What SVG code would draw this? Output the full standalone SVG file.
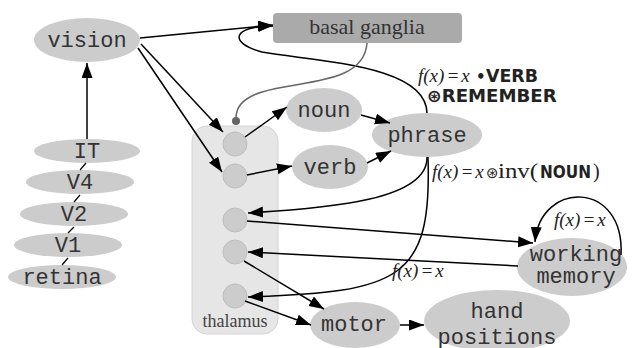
<svg xmlns="http://www.w3.org/2000/svg" width="634" height="348" viewBox="0 0 634 348">
<style>
.n{fill:#cccccc;stroke:none}
.t{font-family:"Liberation Mono","DejaVu Sans Mono",monospace;font-size:22px;fill:#333;text-anchor:middle}
.c{fill:none;stroke:#000;stroke-width:1.5}
.a{marker-end:url(#ah)}
.it{font-family:"Liberation Serif",serif;font-style:italic;font-size:19px;fill:#222}
.rm{font-family:"Liberation Serif",serif;font-size:18px;fill:#222}
.b{font-family:"DejaVu Sans",sans-serif;font-weight:bold;font-size:17.5px;fill:#222}
.th{fill:#cccccc;stroke:#bdbdbd;stroke-width:1}
</style>
<defs>
<marker id="ah" markerUnits="userSpaceOnUse" markerWidth="16" markerHeight="12" refX="15" refY="5.5" orient="auto">
<path d="M0,0 L15,5.5 L0,11 z" fill="#000"/>
</marker>
</defs>
<rect width="634" height="348" fill="#fff"/>
<g id="thalamus">
<rect x="192" y="126" width="86" height="208" rx="15" fill="#e6e6e6" stroke="#d4d4d4"/>
<text x="235" y="327" class="rm" text-anchor="middle" style="fill:#444">thalamus</text>
</g>
<g id="basal_ganglia">
<rect x="273" y="13" width="189" height="30" rx="4" fill="#aaaaaa"/>
<text x="367" y="34" class="rm" text-anchor="middle" style="font-size:22px;fill:#333">basal ganglia</text>
</g>
<g id="vision"><ellipse cx="87" cy="40" rx="53" ry="22" class="n"/><text x="87" y="47" class="t">vision</text></g>
<g id="IT"><ellipse cx="87" cy="151" rx="53" ry="12" class="n"/><text x="87" y="158" class="t">IT</text></g>
<g id="V4"><ellipse cx="80" cy="182" rx="54" ry="12" class="n"/><text x="80" y="189" class="t">V4</text></g>
<g id="V2"><ellipse cx="74" cy="214" rx="54" ry="12" class="n"/><text x="74" y="221" class="t">V2</text></g>
<g id="V1"><ellipse cx="68" cy="245" rx="54" ry="12" class="n"/><text x="68" y="252" class="t">V1</text></g>
<g id="retina"><ellipse cx="62" cy="277" rx="54" ry="12" class="n"/><text x="62" y="284" class="t">retina</text></g>
<g id="noun"><ellipse cx="324" cy="110" rx="38" ry="22" class="n"/><text x="324" y="117" class="t">noun</text></g>
<g id="verb"><ellipse cx="330" cy="167" rx="38" ry="22" class="n"/><text x="330" y="174" class="t">verb</text></g>
<g id="phrase"><ellipse cx="427" cy="135" rx="55" ry="22" class="n"/><text x="427" y="142" class="t">phrase</text></g>
<g id="working_memory"><ellipse cx="572" cy="267" rx="55" ry="29" class="n"/><text x="576" y="261" class="t">working</text><text x="576" y="283" class="t">memory</text></g>
<g id="motor"><ellipse cx="355" cy="325" rx="45" ry="23" class="n"/><text x="354" y="331" class="t">motor</text></g>
<g id="hand_positions"><ellipse cx="497" cy="321" rx="73" ry="31" class="n"/><text x="497" y="318" class="t">hand</text><text x="497" y="344" class="t">positions</text></g>
<g id="thal1"><circle cx="235" cy="144" r="12" class="th"/></g>
<g id="thal2"><circle cx="235" cy="176" r="12" class="th"/></g>
<g id="thal3"><circle cx="235" cy="220" r="12" class="th"/></g>
<g id="thal4"><circle cx="235" cy="252" r="12" class="th"/></g>
<g id="thal5"><circle cx="235" cy="296" r="12" class="th"/></g>
<g id="connectors">
<line x1="86" y1="163" x2="80" y2="170" class="c" style="stroke-width:1.2"/>
<line x1="80" y1="195" x2="74" y2="202" class="c" style="stroke-width:1.2"/>
<line x1="74" y1="227" x2="68" y2="233" class="c" style="stroke-width:1.2"/>
<line x1="68" y1="258" x2="62" y2="265" class="c" style="stroke-width:1.2"/>
<line x1="87" y1="139" x2="87" y2="63" class="c a"/>
<line x1="140" y1="38" x2="273" y2="25" class="c a"/>
<line x1="141" y1="44" x2="223" y2="132" class="c a"/>
<line x1="138" y1="48" x2="222" y2="172" class="c a"/>
<path d="M427,113 C426,65 320,62 262,52 C228,43 232,26 273,26" class="c a"/>
<path d="M367,43 C364,85 300,80 262,92 C242,98 236,108 236,118" fill="none" stroke="#666" stroke-width="1.5"/>
<circle cx="236" cy="121" r="4" fill="#666"/>
<line x1="245" y1="137" x2="287" y2="107" class="c a"/>
<line x1="247" y1="175" x2="292" y2="166" class="c a"/>
<line x1="361" y1="115" x2="390" y2="123" class="c a"/>
<line x1="367" y1="163" x2="391" y2="151" class="c a"/>
<path d="M427,157 C428,200 330,208 248,213" class="c a"/>
<path d="M428,157 C432,280 400,292 248,297" class="c a"/>
<line x1="247" y1="221" x2="533" y2="243" class="c a"/>
<line x1="518" y1="266" x2="248" y2="252" class="c a"/>
<path d="M621,255 C625,180 540,180 535,242" class="c a"/>
<line x1="244" y1="261" x2="324" y2="309" class="c a"/>
<line x1="245" y1="301" x2="311" y2="325" class="c a"/>
<line x1="400" y1="325" x2="424" y2="325" class="c a"/>
</g>
<g id="labels">
<text x="418" y="82" class="it">f(x)<tspan dx="2">=</tspan><tspan dx="2">x</tspan></text>
<text x="476" y="82" class="b" style="font-size:15px">•</text>
<text x="486" y="82" class="b" textLength="52" lengthAdjust="spacingAndGlyphs">VERB</text>
<text x="427" y="102" class="b">⊛<tspan textLength="115" lengthAdjust="spacingAndGlyphs">REMEMBER</tspan></text>
<text x="432" y="178" class="it">f(x)<tspan dx="2">=</tspan><tspan dx="2">x</tspan></text>
<text x="486" y="178" class="b" style="font-weight:normal;font-size:15px">⊛</text>
<text x="498" y="178" class="rm" style="font-size:20px" textLength="40" lengthAdjust="spacingAndGlyphs">inv(</text>
<text x="540" y="178" class="b" textLength="51" lengthAdjust="spacingAndGlyphs">NOUN</text>
<text x="593" y="178" class="rm" style="font-size:20px">)</text>
<text x="554" y="226" class="it">f(x)<tspan dx="2">=</tspan><tspan dx="2">x</tspan></text>
<text x="392" y="277" class="it">f(x)<tspan dx="2">=</tspan><tspan dx="2">x</tspan></text>
</g>
</svg>
